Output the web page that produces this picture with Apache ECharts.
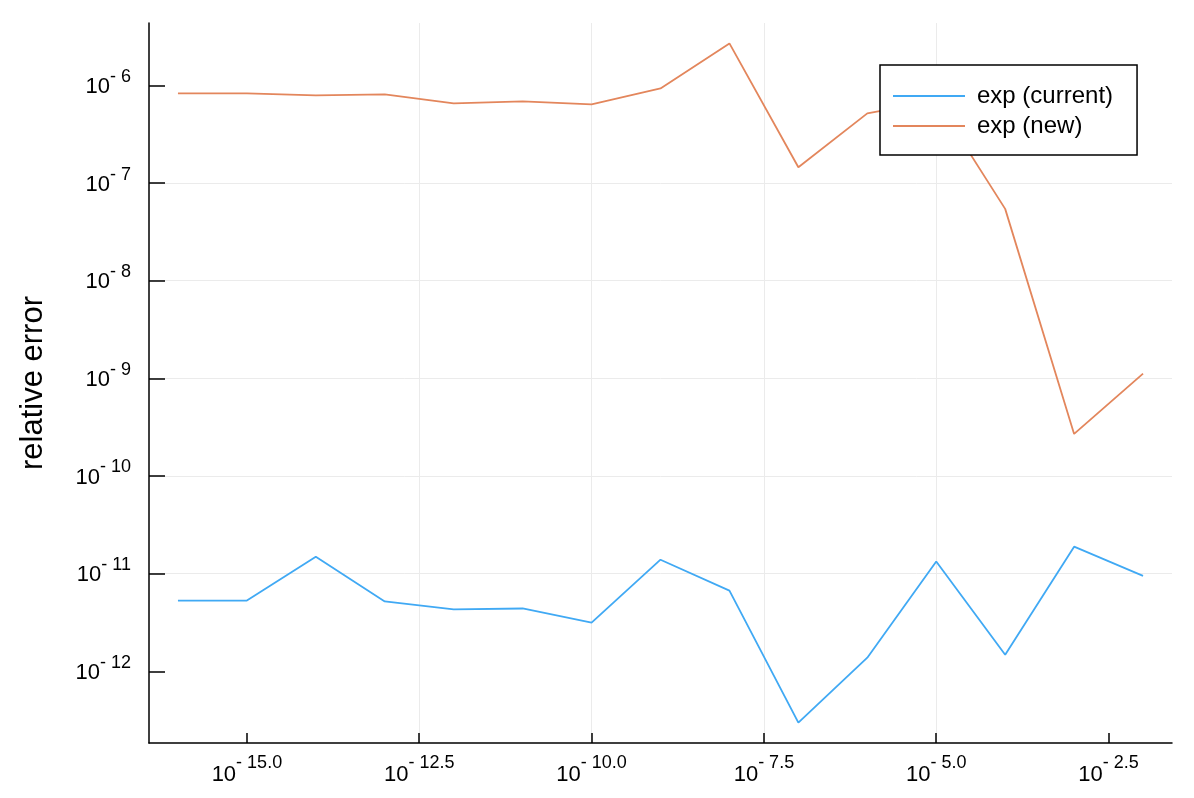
<!DOCTYPE html>
<html>
<head>
<meta charset="utf-8">
<script src="https://cdn.jsdelivr.net/npm/echarts@6/dist/echarts.min.js"></script>
<style>html,body{margin:0;padding:0;background:#fff}#c{width:1194px;height:798px}</style>
</head>
<body>
<div id="c"></div>
<script>
// x values (powers of ten)
const xExponents = [-16, -15, -14, -13, -12, -11, -10, -9, -8, -7, -6, -5, -4, -3, -2];
const xValues = xExponents.map(e => Math.pow(10, e));
// relative errors
const expCurrent = [5.3e-12, 5.3e-12, 1.49e-11, 5.2e-12, 4.3e-12, 4.4e-12, 3.15e-12, 1.39e-11, 6.7e-12, 2.98e-13, 1.38e-12, 1.33e-11, 1.48e-12, 1.89e-11, 9.5e-12];
const expNew = [8.3e-7, 8.3e-7, 7.9e-7, 8.1e-7, 6.55e-7, 6.86e-7, 6.4e-7, 9.3e-7, 2.69e-6, 1.45e-7, 5.17e-7, 7.0e-7, 5.44e-8, 2.7e-10, 1.12e-9];
// tick positions (log10)
const xTicks = [-15, -12.5, -10, -7.5, -5, -2.5];
const yTicks = [-12, -11, -10, -9, -8, -7, -6];
const seriesNames = ['exp (current)', 'exp (new)'];

const FONT = 'Liberation Sans, Arial, Helvetica, sans-serif';
const toPairs = ys => xValues.map((x, i) => [Math.log10(x), Math.log10(ys[i])]);

const chart = echarts.init(document.getElementById('c'), null, {renderer: 'canvas'});
chart.setOption({
  backgroundColor: '#ffffff',
  animation: false,
  grid: {left: 149, right: 22, top: 23, bottom: 55, containLabel: false},
  xAxis: {
    type: 'value',
    min: -16.42, max: -1.58,
    axisLine: {show: true, lineStyle: {color: '#000', width: 1.5}},
    axisTick: {show: true, inside: true, length: 10, customValues: xTicks, lineStyle: {color: '#000', width: 1.5}},
    splitLine: {show: true, showMinLine: false, showMaxLine: false, lineStyle: {color: '#ebebeb', width: 1}},
    axisLabel: {
      customValues: xTicks,
      margin: 11,
      fontFamily: FONT,
      color: '#000',
      formatter: v => '{b|10}{s|- ' + (-v).toFixed(1) + '}',
      rich: {
        b: {fontSize: 22, lineHeight: 32, fontFamily: FONT, color: '#000', verticalAlign: 'bottom'},
        s: {fontSize: 18, lineHeight: 17, fontFamily: FONT, color: '#000', verticalAlign: 'top'}
      }
    }
  },
  yAxis: {
    type: 'value',
    min: -12.734, max: -5.361,
    name: 'relative error',
    nameLocation: 'middle',
    nameGap: 100,
    nameRotate: 90,
    nameTextStyle: {fontSize: 31, fontFamily: FONT, color: '#000'},
    axisLine: {show: true, lineStyle: {color: '#000', width: 1.5}},
    axisTick: {show: true, inside: true, length: 16, customValues: yTicks, lineStyle: {color: '#000', width: 1.5}},
    splitLine: {show: true, showMinLine: false, showMaxLine: false, lineStyle: {color: '#ebebeb', width: 1}},
    axisLabel: {
      customValues: yTicks,
      margin: 18,
      fontFamily: FONT,
      color: '#000',
      padding: [0, 0, 5, 0],
      formatter: v => '{b|10}{s|- ' + Math.round(-v) + '}',
      rich: {
        b: {fontSize: 22, lineHeight: 30, fontFamily: FONT, color: '#000', verticalAlign: 'bottom'},
        s: {fontSize: 18, lineHeight: 17, fontFamily: FONT, color: '#000', verticalAlign: 'top'}
      }
    }
  },
  legend: {
    show: true,
    orient: 'vertical',
    left: 880, top: 65,
    padding: [19, 24, 17, 12],
    itemWidth: 72, itemHeight: 14, itemGap: 6,
    itemStyle: {opacity: 0},
    backgroundColor: '#fff',
    borderColor: '#000', borderWidth: 1.5, borderRadius: 0,
    textStyle: {fontSize: 24, lineHeight: 24, fontFamily: FONT, color: '#000', padding: [0, 0, 0, 7]},
    data: seriesNames
  },
  series: [
    {name: seriesNames[0], type: 'line', data: toPairs(expCurrent), symbol: 'none', color: '#40a9f4', lineStyle: {color: '#40a9f4', width: 1.8}},
    {name: seriesNames[1], type: 'line', data: toPairs(expNew), symbol: 'none', color: '#e3865c', lineStyle: {color: '#e3865c', width: 1.8}}
  ]
});
</script>
</body>
</html>
